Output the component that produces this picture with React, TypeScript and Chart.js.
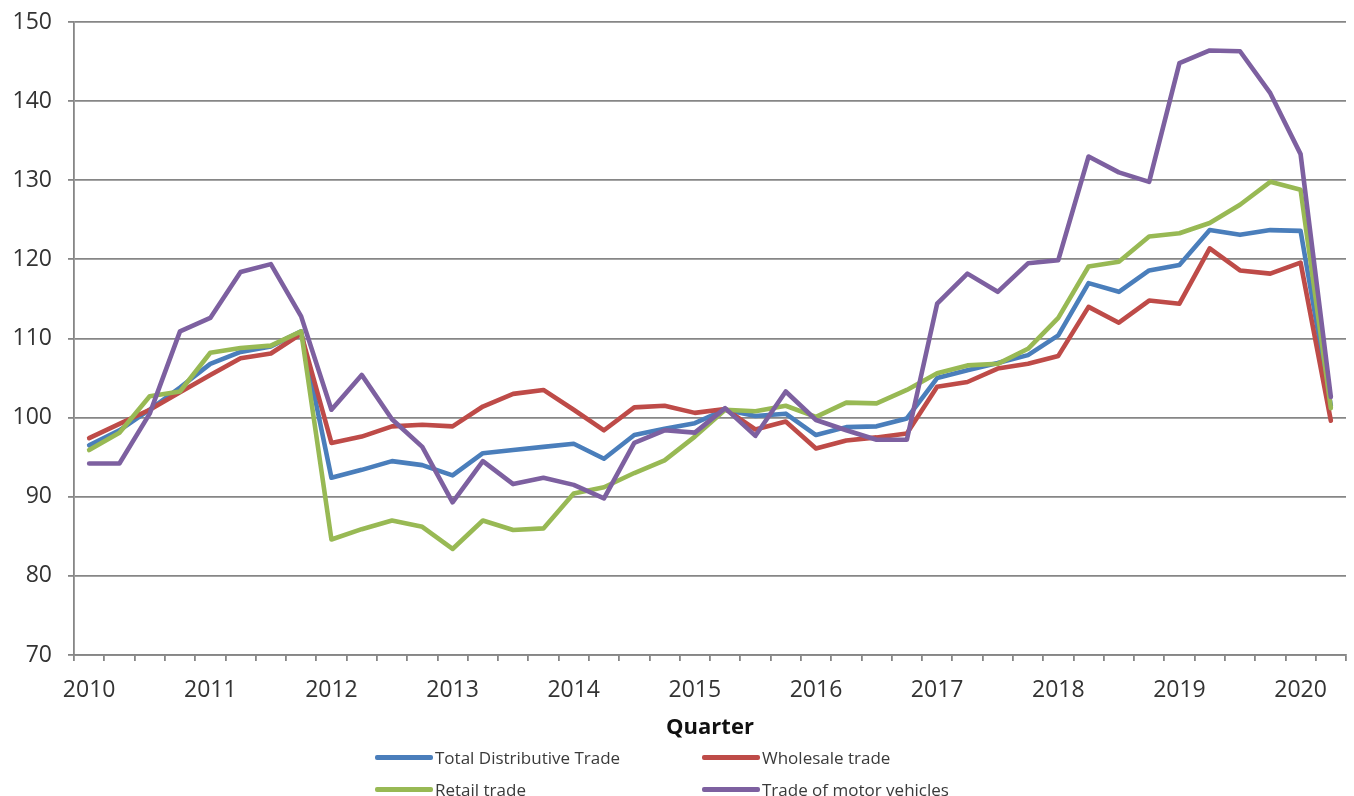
import React, { useEffect, useRef } from "react";
import { Chart, registerables } from "chart.js";

Chart.register(...registerables);

const categories = [
  "2010 Q1", "2010 Q2", "2010 Q3", "2010 Q4",
  "2011 Q1", "2011 Q2", "2011 Q3", "2011 Q4",
  "2012 Q1", "2012 Q2", "2012 Q3", "2012 Q4",
  "2013 Q1", "2013 Q2", "2013 Q3", "2013 Q4",
  "2014 Q1", "2014 Q2", "2014 Q3", "2014 Q4",
  "2015 Q1", "2015 Q2", "2015 Q3", "2015 Q4",
  "2016 Q1", "2016 Q2", "2016 Q3", "2016 Q4",
  "2017 Q1", "2017 Q2", "2017 Q3", "2017 Q4",
  "2018 Q1", "2018 Q2", "2018 Q3", "2018 Q4",
  "2019 Q1", "2019 Q2", "2019 Q3", "2019 Q4",
  "2020 Q1", "2020 Q2",
];

const totalDistributive = [
  96.5, 98.4, 101.0, 103.8, 106.8, 108.3, 109.0, 110.9,
  92.4, 93.4, 94.5, 94.0, 92.7, 95.5, 95.9, 96.3,
  96.7, 94.8, 97.8, 98.6, 99.3, 101.0, 100.2, 100.5,
  97.8, 98.8, 98.9, 99.9, 105.0, 106.0, 106.9, 107.9,
  110.4, 117.0, 115.9, 118.6, 119.3, 123.7, 123.1, 123.7,
  123.6, 101.5,
];

const wholesale = [
  97.4, 99.2, 101.0, 103.2, 105.4, 107.5, 108.1, 110.6,
  96.8, 97.6, 98.9, 99.1, 98.9, 101.4, 103.0, 103.5,
  101.0, 98.4, 101.3, 101.5, 100.6, 101.1, 98.5, 99.5,
  96.1, 97.1, 97.5, 98.0, 103.9, 104.5, 106.2, 106.8,
  107.8, 114.0, 112.0, 114.8, 114.4, 121.4, 118.6, 118.2,
  119.6, 99.6,
];

const retail = [
  95.9, 98.1, 102.7, 103.3, 108.2, 108.8, 109.1, 110.9,
  84.6, 85.9, 87.0, 86.2, 83.4, 87.0, 85.8, 86.0,
  90.4, 91.2, 93.0, 94.6, 97.6, 101.0, 100.8, 101.5,
  100.1, 101.9, 101.8, 103.5, 105.6, 106.6, 106.8, 108.7,
  112.6, 119.1, 119.7, 122.9, 123.3, 124.6, 126.9, 129.8,
  128.8, 101.2,
];

const motorVehicles = [
  94.2, 94.2, 100.5, 110.9, 112.6, 118.4, 119.4, 112.8,
  101.0, 105.4, 99.8, 96.3, 89.3, 94.5, 91.6, 92.4,
  91.5, 89.8, 96.8, 98.4, 98.1, 101.2, 97.7, 103.3,
  99.7, 98.4, 97.2, 97.2, 114.4, 118.2, 115.9, 119.5,
  119.9, 133.0, 131.0, 129.8, 144.8, 146.4, 146.3, 141.0,
  133.3, 102.6,
];

const seriesNames = [
  "Total Distributive Trade",
  "Wholesale trade",
  "Retail trade",
  "Trade of motor vehicles",
];
const seriesColors = ["#4a7ebb", "#be4b48", "#98b954", "#7d60a0"];
const seriesValues = [totalDistributive, wholesale, retail, motorVehicles];

const yMin = 70;
const yMax = 150;
const yStep = 10;
const xTitle = "Quarter";

const FONT = "'Open Sans', 'Liberation Sans', sans-serif";

export default function App() {
  const canvasRef = useRef<HTMLCanvasElement | null>(null);

  useEffect(() => {
    const canvas = canvasRef.current;
    if (!canvas) return;
    const chart = new Chart(canvas, {
      type: "line",
      data: {
        labels: categories,
        datasets: seriesNames.map((name, i) => ({
          label: name,
          data: seriesValues[i],
          borderColor: seriesColors[i],
          backgroundColor: seriesColors[i],
          borderWidth: 4.6,
          pointRadius: 0,
          tension: 0,
          borderJoinStyle: "round" as const,
          borderCapStyle: "round" as const,
          order: seriesNames.length - i,
        })),
      },
      options: {
        responsive: false,
        maintainAspectRatio: false,
        animation: false,
        layout: { padding: { top: 22, right: 8, bottom: 51, left: 12 } },
        plugins: {
          legend: { display: false },
          tooltip: { enabled: false },
          title: { display: false },
        },
        scales: {
          x: {
            type: "category",
            offset: true,
            afterFit: (scale: any) => {
              scale.height = 90;
              scale.paddingLeft = 0;
              scale.paddingRight = 0;
            },
            grid: {
              offset: true,
              drawOnChartArea: false,
              drawTicks: true,
              tickLength: 6,
              color: "#868686",
              lineWidth: 1.8,
            },
            border: { display: true, color: "#868686", width: 1.8 },
            ticks: {
              autoSkip: false,
              maxRotation: 0,
              minRotation: 0,
              padding: 16,
              color: "#333333",
              font: { family: FONT, size: 23 },
              callback: function (_v: any, index: number) {
                const lab = categories[index];
                return lab.endsWith("Q1") ? lab.slice(0, 4) : "";
              },
            },
            title: {
              display: true,
              text: xTitle,
              color: "#111111",
              font: { family: FONT, size: 22, weight: "bold" },
              padding: { top: 10, bottom: 4 },
            },
          },
          y: {
            min: yMin,
            max: yMax,
            afterFit: (scale: any) => {
              scale.width = 62;
              scale.paddingTop = 0;
              scale.paddingBottom = 0;
            },
            grid: {
              drawOnChartArea: true,
              drawTicks: true,
              tickLength: 6,
              color: "#868686",
              lineWidth: 1.8,
            },
            border: { display: true, color: "#868686", width: 1.8 },
            ticks: {
              stepSize: yStep,
              padding: 16,
              color: "#333333",
              font: { family: FONT, size: 23 },
            },
          },
        },
      },
    });
    return () => chart.destroy();
  }, []);

  const legendRows = [
    [0, 1],
    [2, 3],
  ];
  const colX = [375, 702];
  const rowY = [757, 789];

  return (
    <div
      style={{
        position: "fixed",
        left: 0,
        top: 0,
        width: 1354,
        height: 796,
        background: "#ffffff",
        overflow: "hidden",
      }}
    >
      <canvas
        ref={canvasRef}
        width={1354}
        height={796}
        style={{ width: 1354, height: 796, display: "block" }}
      />
      {legendRows.map((row, r) =>
        row.map((si, c) => (
          <div
            key={`${r}-${c}`}
            style={{
              position: "absolute",
              left: colX[c],
              top: rowY[r] - 12,
              height: 24,
              display: "flex",
              alignItems: "center",
              fontFamily: FONT,
              fontSize: 17,
              color: "#3a3a3a",
              whiteSpace: "nowrap",
            }}
          >
            <span
              style={{
                display: "inline-block",
                width: 58,
                height: 5,
                borderRadius: 2,
                background: seriesColors[si],
                marginRight: 2,
              }}
            />
            <span>{seriesNames[si]}</span>
          </div>
        ))
      )}
    </div>
  );
}
